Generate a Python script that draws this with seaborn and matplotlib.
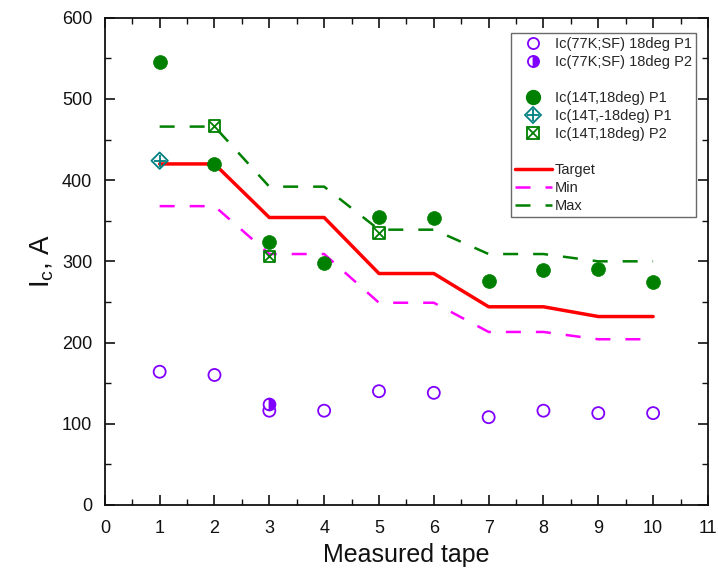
import matplotlib
matplotlib.use("Agg")
import matplotlib.pyplot as plt
import seaborn as sns
import numpy as np
import pandas as pd
from matplotlib.lines import Line2D
from matplotlib.legend_handler import HandlerTuple
from matplotlib.ticker import MultipleLocator

tape = [1, 2, 3, 4, 5, 6, 7, 8, 9, 10]
ic77_p1 = [164, 160, 116, 116, 140, 138, 108, 116, 113, 113]
ic77_p2_x = [3]
ic77_p2 = [124]
ic14_p1 = [545, 420, 324, 298, 355, 353, 276, 289, 291, 275]
ic14m_p1_x = [1]
ic14m_p1 = [424]
ic14_p2_x = [2, 3, 5]
ic14_p2 = [467, 306, 335]
target = [420, 420, 354, 354, 285, 285, 244, 244, 232, 232]
imin = [368, 368, 309, 309, 249, 249, 213, 213, 204, 204]
imax = [466, 466, 392, 392, 339, 339, 309, 309, 300, 300]

sns.set_theme(style="ticks")
plt.rcParams['font.family'] = ['Liberation Sans', 'DejaVu Sans']
plt.rcParams['mathtext.default'] = 'regular'

PURPLE = '#8000FF'
GREEN = '#008000'
TEAL = '#008080'

fig = plt.figure(figsize=(7.18, 5.75), dpi=100)
ax = fig.add_axes([0.146, 0.122, 0.840, 0.847])

df = pd.DataFrame({'x': tape, 'target': target, 'min': imin, 'max': imax})
sns.lineplot(data=df, x='x', y='target', ax=ax, color='red', lw=2.5)
sns.lineplot(data=df, x='x', y='min', ax=ax, color='magenta', lw=1.8)
ax.lines[-1].set_dashes([6, 6])
sns.lineplot(data=df, x='x', y='max', ax=ax, color=GREEN, lw=1.8)
ax.lines[-1].set_dashes([6, 6])

sns.scatterplot(x=tape, y=ic77_p1, ax=ax, marker='o', s=75, facecolor='none',
                edgecolor=PURPLE, linewidth=1.3, zorder=5)
ax.plot(ic77_p2_x, ic77_p2, marker='o', ms=8.5, ls='none', color=PURPLE,
        fillstyle='right', markerfacecoloralt='white', mec=PURPLE, mew=1.3, zorder=6)
sns.scatterplot(x=tape, y=ic14_p1, ax=ax, marker='o', s=100, color=GREEN,
                edgecolor=GREEN, linewidth=0.5, zorder=5)
sns.scatterplot(x=ic14m_p1_x, y=ic14m_p1, ax=ax, marker='D', s=70, facecolor='none',
                edgecolor=TEAL, linewidth=1.3, zorder=5)
sns.scatterplot(x=ic14m_p1_x, y=ic14m_p1, ax=ax, marker='+', s=80, color=TEAL,
                linewidth=1.3, zorder=6)
sns.scatterplot(x=ic14_p2_x, y=ic14_p2, ax=ax, marker='s', s=70, facecolor='none',
                edgecolor=GREEN, linewidth=1.3, zorder=5)
sns.scatterplot(x=ic14_p2_x, y=ic14_p2, ax=ax, marker='x', s=60, color=GREEN,
                linewidth=1.3, zorder=6)

ax.set_xlim(0, 11)
ax.set_ylim(0, 600)
ax.xaxis.set_major_locator(MultipleLocator(1))
ax.xaxis.set_minor_locator(MultipleLocator(0.5))
ax.yaxis.set_major_locator(MultipleLocator(100))
ax.yaxis.set_minor_locator(MultipleLocator(50))
ax.tick_params(which='both', direction='in', top=True, right=True, labelsize=13,
               colors='#111111')
ax.tick_params(axis='x', which='major', pad=11)
ax.tick_params(axis='y', which='major', pad=9)
ax.tick_params(which='major', length=7, width=1.2)
ax.tick_params(which='minor', length=4, width=1.0)
for s in ax.spines.values():
    s.set_linewidth(1.3)
    s.set_color('#111111')
ax.set_xlabel('Measured tape', fontsize=18, labelpad=4, color='#111111')
ax.set_ylabel('I$_c$, A', fontsize=20, labelpad=4, color='#111111')

blank = Line2D([], [], ls='none')
h1 = Line2D([], [], marker='o', ls='none', mfc='none', mec=PURPLE, mew=1.3, ms=8)
h2 = Line2D([], [], marker='o', ls='none', color=PURPLE, fillstyle='right',
            markerfacecoloralt='white', mec=PURPLE, mew=1.3, ms=8)
h3 = Line2D([], [], marker='o', ls='none', color=GREEN, ms=10)
h4 = (Line2D([], [], marker='D', ls='none', mfc='none', mec=TEAL, mew=1.3, ms=8),
      Line2D([], [], marker='+', ls='none', color=TEAL, mew=1.3, ms=9))
h5 = (Line2D([], [], marker='s', ls='none', mfc='none', mec=GREEN, mew=1.3, ms=8),
      Line2D([], [], marker='x', ls='none', color=GREEN, mew=1.3, ms=8))
h6 = Line2D([], [], color='red', lw=2.5)
h7 = Line2D([], [], color='magenta', lw=1.8, dashes=[6, 6])
h8 = Line2D([], [], color=GREEN, lw=1.8, dashes=[6, 6])
handles = [h1, h2, blank, h3, h4, h5, blank, h6, h7, h8]
labels = ['Ic(77K;SF) 18deg P1', 'Ic(77K;SF) 18deg P2', '',
          'Ic(14T,18deg) P1', 'Ic(14T,-18deg) P1', 'Ic(14T,18deg) P2', '',
          'Target', 'Min', 'Max']
leg = ax.legend(handles, labels, loc='upper right', bbox_to_anchor=(0.980, 0.969),
                borderaxespad=0, fontsize=10.5, frameon=True, fancybox=False,
                edgecolor='#444444', handlelength=2.5, handletextpad=0.2,
                borderpad=0.3, labelspacing=0.27,
                handler_map={tuple: HandlerTuple(ndivide=1)})
leg.get_frame().set_linewidth(1.0)

fig.savefig('out.png', dpi=100)
